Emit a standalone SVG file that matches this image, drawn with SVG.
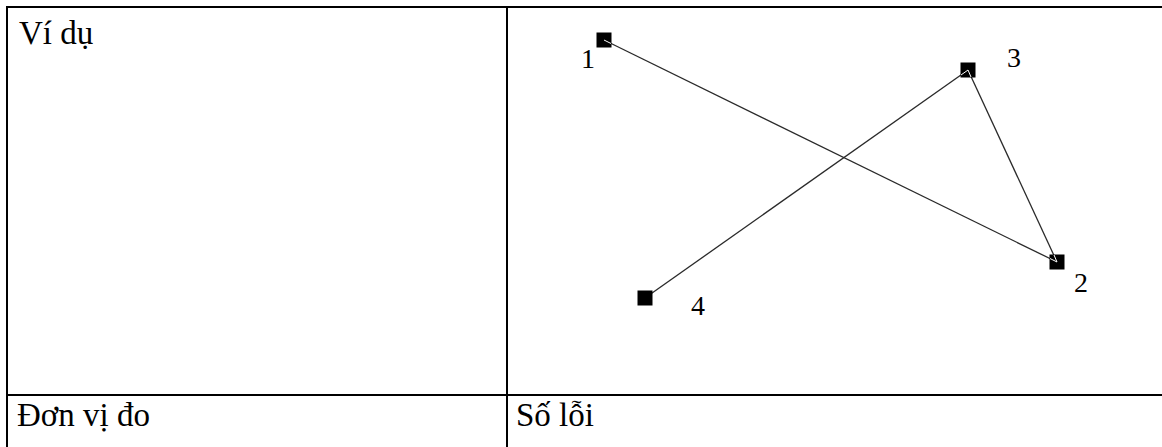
<svg xmlns="http://www.w3.org/2000/svg" width="1162" height="447" viewBox="0 0 1162 447">
<style>
.t{font-family:"Liberation Serif","Times New Roman",serif;font-size:33px;fill:#000}
.d{font-family:"Liberation Serif","Times New Roman",serif;font-size:28px;fill:#000}
.b{stroke:#000;stroke-width:2;fill:none}
.e{stroke:#2a2a2a;stroke-width:1.3;fill:none}
.n{fill:#000}
.w{stroke:#fff;stroke-width:1}
</style>
<rect width="1162" height="447" fill="#fff"/>
<g id="table">
<line class="b" x1="6" y1="7" x2="1162" y2="7"/>
<line class="b" x1="7" y1="6" x2="7" y2="447"/>
<line class="b" x1="507" y1="7" x2="507" y2="447"/>
<line class="b" x1="6" y1="395" x2="1162" y2="395"/>
<text class="t" x="19" y="44">Ví dụ</text>
<text class="t" x="17" y="426">Đơn vị đo</text>
<text class="t" x="516" y="426">Số lỗi</text>
</g>
<g id="connectors">
<line class="e" x1="604" y1="40" x2="1057" y2="262"/>
<line class="e" x1="968" y1="70" x2="1057" y2="262"/>
<line class="e" x1="968" y1="70" x2="645" y2="298"/>
</g>
<g id="node1"><rect class="n" x="596.5" y="32.5" width="15" height="15"/><line class="w" x1="604" y1="40" x2="611" y2="43.5"/><text class="d" x="581" y="68">1</text></g>
<g id="node3"><rect class="n" x="960.5" y="62.5" width="15" height="15"/><line class="w" x1="968" y1="70" x2="961" y2="75"/><line class="w" x1="968" y1="70" x2="971" y2="77"/><text class="d" x="1007" y="67">3</text></g>
<g id="node2"><rect class="n" x="1049.5" y="254.5" width="15" height="15"/><line class="w" x1="1057" y1="262" x2="1050" y2="258.5"/><line class="w" x1="1057" y1="262" x2="1054" y2="255"/><text class="d" x="1074" y="292">2</text></g>
<g id="node4"><rect class="n" x="637.5" y="290.5" width="15" height="15"/><text class="d" x="691" y="315">4</text></g>
</svg>
